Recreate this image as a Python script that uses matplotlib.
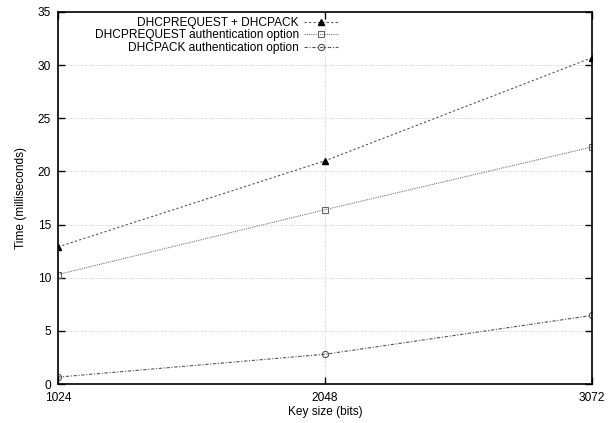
import matplotlib
matplotlib.use("Agg")
import matplotlib.pyplot as plt

plt.rcParams['font.family'] = ['Liberation Sans', 'DejaVu Sans']
plt.rcParams['font.size'] = 8.6

key_sizes = [1024, 2048, 3072]
req_plus_ack = [12.9, 21.0, 30.7]
req_auth = [10.3, 16.4, 22.3]
ack_auth = [0.65, 2.8, 6.45]
x_ticks = [1024, 2048, 3072]
y_ticks = [0, 5, 10, 15, 20, 25, 30, 35]

W, H = 614, 423
fig = plt.figure(figsize=(W / 100, H / 100), dpi=100)
left, right, top, bottom = 58, 592, 12, 384
ax = fig.add_axes([left / W, 1 - bottom / H, (right - left) / W, (bottom - top) / H])

ax.plot(key_sizes, req_plus_ack, color='#555555', lw=0.8, ls=(0, (2, 2)),
        marker='^', ms=4, mfc='black', mec='black', label='DHCPREQUEST + DHCPACK')
ax.plot(key_sizes, req_auth, color='#777777', lw=0.8, ls=(0, (1, 1)),
        marker='s', ms=5, mfc='none', mec='#666666', mew=0.8,
        label='DHCPREQUEST authentication option')
ax.plot(key_sizes, ack_auth, color='#555555', lw=0.8, ls=(0, (3, 1.5, 1, 1.5)),
        marker='o', ms=4.5, mfc='none', mec='#555555', mew=0.8,
        label='DHCPACK authentication option')

ax.set_xlim(1024, 3072)
ax.set_ylim(0, 35)
ax.set_xticks(x_ticks)
ax.set_yticks(y_ticks)
ax.grid(True, color='#bbbbbb', ls=(0, (1, 2)), lw=0.6)
ax.tick_params(direction='in', top=True, right=True, length=5, width=1)
ax.tick_params(axis='x', pad=5.5)
ax.tick_params(axis='y', pad=5)
for s in ax.spines.values():
    s.set_linewidth(1.2)

ax.set_xlabel('Key size (bits)', labelpad=2)
ax.set_ylabel('Time (milliseconds)', labelpad=8)

leg = ax.legend(loc='upper right', bbox_to_anchor=(343 / W, 1 - top / H),
                bbox_transform=fig.transFigure, frameon=False,
                markerfirst=False, handlelength=2.9, labelspacing=0.05,
                borderaxespad=0.0, handletextpad=0.4)
for t in leg.get_texts():
    t.set_ha('right')

fig.savefig('out.png', dpi=100)
